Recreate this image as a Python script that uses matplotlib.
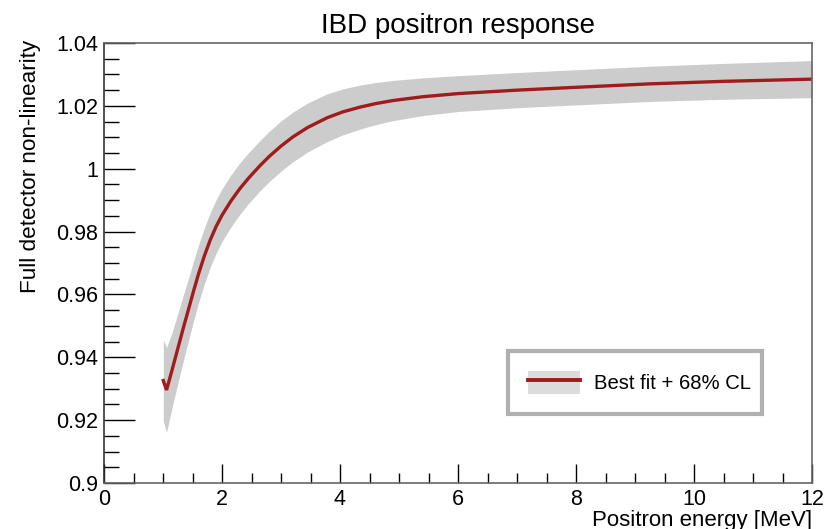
import numpy as np
import matplotlib
matplotlib.use("Agg")
import matplotlib.pyplot as plt
from matplotlib.patches import Patch
from matplotlib.lines import Line2D
from matplotlib.legend_handler import HandlerTuple
from matplotlib.ticker import MultipleLocator

plt.rcParams["font.family"] = ["Liberation Sans", "DejaVu Sans"]

# positron energy [MeV], best-fit non-linearity and 68% CL half-width
energy = [1.005, 1.06, 1.15, 1.26, 1.35, 1.43, 1.52, 1.60, 1.70, 1.80, 1.90,
          2.00, 2.15, 2.30, 2.45, 2.64, 2.80, 3.00, 3.20, 3.45, 3.78, 4.05,
          4.34, 4.60, 4.90, 5.40, 6.00, 7.00, 8.00, 9.25, 10.50, 12.00]
best_fit = [0.9326, 0.9296, 0.9357, 0.9434, 0.9497, 0.9551, 0.9612, 0.9664,
            0.9722, 0.9773, 0.9816, 0.9852, 0.9897, 0.9936, 0.9970, 1.0009,
            1.0039, 1.0072, 1.0101, 1.0131, 1.0162, 1.0181, 1.0196, 1.0207,
            1.0217, 1.0229, 1.0239, 1.0250, 1.0259, 1.0270, 1.0278, 1.0285]
half_width = [0.0130, 0.0135, 0.0120, 0.0110, 0.0104, 0.0099, 0.0095, 0.0092,
              0.0089, 0.0087, 0.0085, 0.0084, 0.0083, 0.0082, 0.0081, 0.0080,
              0.0080, 0.0080, 0.0079, 0.0078, 0.0076, 0.0073, 0.0070, 0.0067,
              0.0064, 0.0060, 0.0057, 0.0056, 0.0056, 0.0056, 0.0057, 0.0059]

e = np.array(energy)
fit = np.array(best_fit)
hw = np.array(half_width)

fig = plt.figure(figsize=(8.36, 5.29), dpi=100)
ax = fig.add_axes([104 / 836, 1 - 483 / 529, 708 / 836, 440 / 529])

ax.fill_between(e, fit - hw, fit + hw, color="#cccccc", lw=0)
ax.plot(e, fit, color="#a01c1c", lw=2.4, solid_joinstyle="miter")

ax.set_xlim(0, 12)
ax.set_ylim(0.9, 1.04)
ax.xaxis.set_major_locator(MultipleLocator(2))
ax.xaxis.set_minor_locator(MultipleLocator(0.5))
ax.yaxis.set_major_locator(MultipleLocator(0.02))
ax.yaxis.set_minor_locator(MultipleLocator(0.005))
ax.yaxis.set_major_formatter(lambda v, p: f"{v:g}")
ax.xaxis.set_major_formatter(lambda v, p: f"{v:g}")

ax.tick_params(which="both", direction="in", top=False, right=False,
               labelsize=15.5, color="black", width=1.0)
ax.tick_params(axis="y", which="major", length=22, pad=4)
ax.tick_params(axis="y", which="minor", length=11)
ax.tick_params(axis="x", which="major", length=14, pad=4)
ax.tick_params(axis="x", which="minor", length=7)
for side in ["top", "right", "bottom"]:
    ax.spines[side].set_color("#666666")
    ax.spines[side].set_linewidth(1.2)
ax.spines["left"].set_color("#333333")
ax.spines["left"].set_linewidth(1.2)

fig.text(0.5 * (104 + 812) / 836, 1 - 33 / 529, "IBD positron response",
         ha="center", va="baseline", fontsize=20)
fig.text(31 / 836, 1 - 40 / 529, "Full detector non-linearity",
         rotation=90, ha="center", va="top", fontsize=16.2)
# axis title sits at the lower right, partly below the canvas edge
fig.text(812 / 836, 1 - 510 / 529, "Positron energy [MeV]",
         ha="right", va="top", fontsize=16)

leg = ax.legend([(Patch(facecolor="#dcdcdc", lw=0),
                  Line2D([], [], color="#a01c1c", lw=2.8))],
                ["Best fit + 68% CL"],
                handler_map={tuple: HandlerTuple(ndivide=1, pad=0)},
                loc="center", bbox_to_anchor=(0.571, 0.155, 0.358, 0.147),
                mode="expand", borderaxespad=0, fontsize=14.6,
                handlelength=2.6, handleheight=1.43, handletextpad=0.7,
                borderpad=0.95, fancybox=False, framealpha=1)
leg.get_frame().set_edgecolor("#b0b0b0")
leg.get_frame().set_linewidth(3)

fig.savefig("out.png", dpi=100)
